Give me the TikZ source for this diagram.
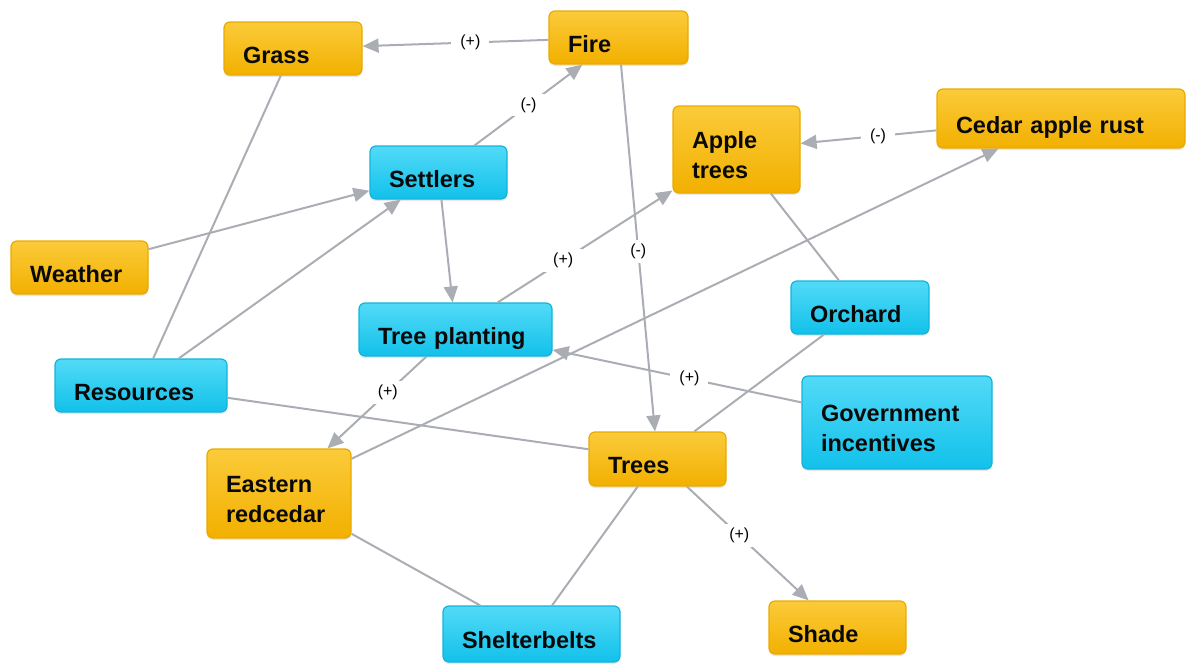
\documentclass[tikz,border=0pt]{standalone}
\usepackage{fontspec}
\setmainfont{Liberation Sans}
\usetikzlibrary{arrows.meta,shadows}
\definecolor{edgegray}{HTML}{ABADB4}
\definecolor{orgtop}{HTML}{FBCB3A}
\definecolor{orgbot}{HTML}{F2B000}
\definecolor{orgborder}{HTML}{E9AA00}
\definecolor{cyntop}{HTML}{52DAF8}
\definecolor{cynbot}{HTML}{12C1EA}
\definecolor{cynborder}{HTML}{12B4DB}
\definecolor{boxtext}{HTML}{0A0A0A}
\newcommand\mystrut{\rule{0pt}{29pt}}
\begin{document}
\begin{tikzpicture}[x=1pt,y=-1pt,
  box/.style={rounded corners=6pt, line width=1.2pt, inner xsep=19pt, inner ysep=0pt,
    align=left, text=boxtext, font=\fontsize{23.5}{30}\selectfont\bfseries,
    drop shadow={opacity=0.18, shadow xshift=0pt, shadow yshift=-2pt}},
  one/.style={text height=29pt, text depth=0pt},
  org/.style={box, draw=orgborder, top color=orgtop, bottom color=orgbot},
  cyn/.style={box, draw=cynborder, top color=cyntop, bottom color=cynbot},
  link/.style={draw=edgegray, line width=2pt},
  arr/.style={link, -{Triangle[length=16pt,width=14pt]}},
  lab/.style={fill=white, font=\fontsize{16}{18}\selectfont, inner xsep=9pt, inner ysep=4pt, text=black}
]
\useasboundingbox (0,0) rectangle (1189,664);

% nodes
\node[org, one, minimum width=138pt, minimum height=53pt, text width=100pt] (grass) at (293,48.5) {Grass};
\node[org, one, minimum width=139pt, minimum height=53pt, text width=101pt] (fire) at (618.5,37.5) {Fire};
\node[org, minimum width=127pt, minimum height=87pt, text width=89pt] (apple) at (736.5,149.5) {\mystrut Apple\\trees};
\node[org, one, minimum width=248pt, minimum height=59pt, text width=210pt] (cedar) at (1061,118.5) {Cedar apple rust};
\node[cyn, one, minimum width=137pt, minimum height=53pt, text width=99pt] (settlers) at (438.5,172.5) {Settlers};
\node[org, one, minimum width=137pt, minimum height=53pt, text width=99pt] (weather) at (79.5,267.5) {Weather};
\node[cyn, one, minimum width=193pt, minimum height=53pt, text width=155pt] (tp) at (455.5,329.5) {Tree planting};
\node[cyn, one, minimum width=138pt, minimum height=53pt, text width=100pt] (orchard) at (860,307.5) {Orchard};
\node[cyn, one, minimum width=172pt, minimum height=53pt, text width=134pt] (resources) at (141,385.5) {Resources};
\node[cyn, minimum width=190pt, minimum height=93pt, text width=152pt] (gov) at (897,422.5) {\mystrut Government\\incentives};
\node[org, one, minimum width=137pt, minimum height=54pt, text width=99pt] (trees) at (657.5,459) {Trees};
\node[org, minimum width=144pt, minimum height=89pt, text width=106pt] (eastern) at (279,493.5) {\mystrut Eastern\\redcedar};
\node[cyn, one, minimum width=177pt, minimum height=56pt, text width=139pt] (shelter) at (531.5,634) {Shelterbelts};
\node[org, one, minimum width=137pt, minimum height=53pt, text width=99pt] (shade) at (837.5,627.5) {Shade};

% connectors
\draw[arr] (fire) -- node[lab, pos=0.42] {(+)} (grass);
\draw[arr] (settlers) -- node[lab, pos=0.5] {(-)} (fire);
\draw[arr] (fire) -- node[lab, pos=0.51] {(-)} (trees);
\draw[arr] (cedar) -- node[lab, pos=0.43] {(-)} (apple);
\draw[arr] (tp) -- node[lab, pos=0.375] {(+)} (apple);
\draw[arr] (weather) -- (settlers);
\draw[arr] (resources) -- (settlers);
\draw[link] (resources) -- (grass);
\draw[arr] (settlers) -- (tp);
\draw[arr] (tp) -- node[lab, pos=0.39] {(+)} (eastern);
\draw[arr] (eastern) -- (cedar);
\draw[arr] (gov) -- node[lab, pos=0.45] {(+)} (tp);
\draw[link] (resources) -- (trees);
\draw[link] (apple) -- (orchard);
\draw[link] (orchard) -- (trees);
\draw[arr] (trees) -- node[lab, pos=0.43] {(+)} (shade);
\draw[link] (trees) -- (shelter);
\draw[link] (eastern) -- (shelter);
\end{tikzpicture}
\end{document}
